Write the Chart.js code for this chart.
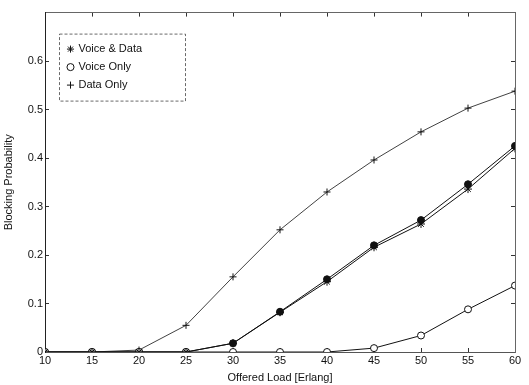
<!DOCTYPE html>
<html>
<head>
<meta charset="utf-8">
<script src="https://cdn.jsdelivr.net/npm/chart.js@4/dist/chart.umd.min.js"></script>
<style>
  html, body { margin: 0; padding: 0; background: #fff; }
  #wrap { width: 529px; height: 385px; }
</style>
</head>
<body>
<div id="wrap"><canvas id="myChart" width="529" height="385"></canvas></div>
<script>
// offered load [Erlang]
var load = [10, 15, 20, 25, 30, 35, 40, 45, 50, 55, 60];

// blocking probability
var voiceData  = [0, 0, 0, 0, 0.018, 0.082, 0.145, 0.216, 0.264, 0.336, 0.42];
var voiceData2 = [0, 0, 0, 0, 0.018, 0.083, 0.150, 0.220, 0.272, 0.346, 0.425];
var voiceOnly  = [0, 0, 0, 0, 0, 0, 0, 0.008, 0.034, 0.088, 0.137];
var dataOnly   = [0, 0, 0.004, 0.055, 0.155, 0.252, 0.33, 0.396, 0.454, 0.503, 0.538];

var yTicks = [0, 0.1, 0.2, 0.3, 0.4, 0.5, 0.6];

var FONT = "'Liberation Sans', Arial, sans-serif";

function pts(arr) {
    return arr.map(function (v, i) { return { x: load[i], y: v }; });
}

function series(label, arr, style, radius, fill, width) {
    return {
        label: label,
        data: pts(arr),
        borderColor: '#111',
        backgroundColor: fill ? '#111' : '#fff',
        borderWidth: width,
        pointStyle: style,
        pointRadius: radius,
        pointBorderWidth: 1,
        pointBorderColor: '#111',
        pointBackgroundColor: fill ? '#111' : '#fff',
        tension: 0,
        fill: false
    };
}

var data = {
    datasets: [
        series('Voice & Data', voiceData, 'star', 4, false, 1),
        series('Voice Only', voiceOnly, 'circle', 3.5, false, 1),
        series('Data Only', dataOnly, 'cross', 3.5, false, 0.8),
        series('', voiceData2, 'circle', 3.5, true, 1)
    ]
};

// move the legend into the corner and give it a dashed frame
var legendBox = {
    id: 'legendBox',
    afterLayout: function (chart) {
        var lg = chart.legend;
        lg.left = chart.chartArea.left + 16;
        lg.top = chart.chartArea.top + 24;
    },
    afterDraw: function (chart) {
        var ctx = chart.ctx;
        var x0 = chart.chartArea.left + 14, y0 = chart.chartArea.top + 21;
        ctx.save();
        ctx.strokeStyle = '#444';
        ctx.lineWidth = 0.8;
        ctx.setLineDash([3, 2]);
        ctx.strokeRect(x0 + 0.5, y0 + 0.5, 126, 67);
        ctx.restore();
    }
};

var tickFont = { family: FONT, size: 11 };

var options = {
    responsive: false,
    animation: false,
    layout: { padding: { top: 4, right: 14, left: 0, bottom: 0 } },
    plugins: {
        legend: {
            position: 'chartArea',
            align: 'start',
            labels: {
                usePointStyle: true,
                boxWidth: 5,
                boxHeight: 5,
                padding: 7,
                color: '#111',
                font: tickFont,
                filter: function (item) { return item.text !== ''; }
            }
        },
        tooltip: { enabled: false }
    },
    scales: {
        x: {
            type: 'linear',
            min: 10, max: 60,
            afterFit: function (s) { s.height = 33; },
            border: { color: '#555', width: 1, dash: [6, 3] },
            grid: { display: true, drawOnChartArea: false, tickLength: -4, color: '#333' },
            ticks: { stepSize: 5, color: '#111', padding: 6, maxRotation: 0, font: tickFont },
            title: { display: true, text: 'Offered Load [Erlang]', color: '#111', padding: 0, font: tickFont }
        },
        x2: {
            type: 'linear', position: 'top',
            min: 10, max: 60,
            afterFit: function (s) { s.height = 0; },
            border: { color: '#666', width: 1, dash: [6, 3] },
            grid: { display: true, drawOnChartArea: false, tickLength: -4, color: '#333' },
            ticks: { stepSize: 5, display: false }
        },
        y: {
            min: 0, max: 0.7,
            afterFit: function (s) { s.width = 45; },
            border: { color: '#222', width: 1 },
            grid: { display: true, drawOnChartArea: false, tickLength: -4, color: '#333' },
            afterBuildTicks: function (s) { s.ticks = yTicks.map(function (v) { return { value: v }; }); },
            ticks: {
                color: '#111', padding: 6,
                font: tickFont,
                callback: function (v) { return v === 0 ? '0' : v.toFixed(1); }
            },
            title: { display: true, text: 'Blocking Probability', color: '#111', padding: 2, font: tickFont }
        },
        y2: {
            position: 'right',
            min: 0, max: 0.7,
            afterFit: function (s) { s.width = 0; },
            border: { color: '#666', width: 1, dash: [6, 3] },
            grid: { display: true, drawOnChartArea: false, tickLength: -4, color: '#333' },
            afterBuildTicks: function (s) { s.ticks = yTicks.map(function (v) { return { value: v }; }); },
            ticks: { display: false }
        }
    }
};

var ctx = document.getElementById('myChart').getContext('2d');
var myChart = new Chart(ctx, {
    type: 'line',
    data: data,
    options: options,
    plugins: [legendBox]
});
</script>
</body>
</html>
